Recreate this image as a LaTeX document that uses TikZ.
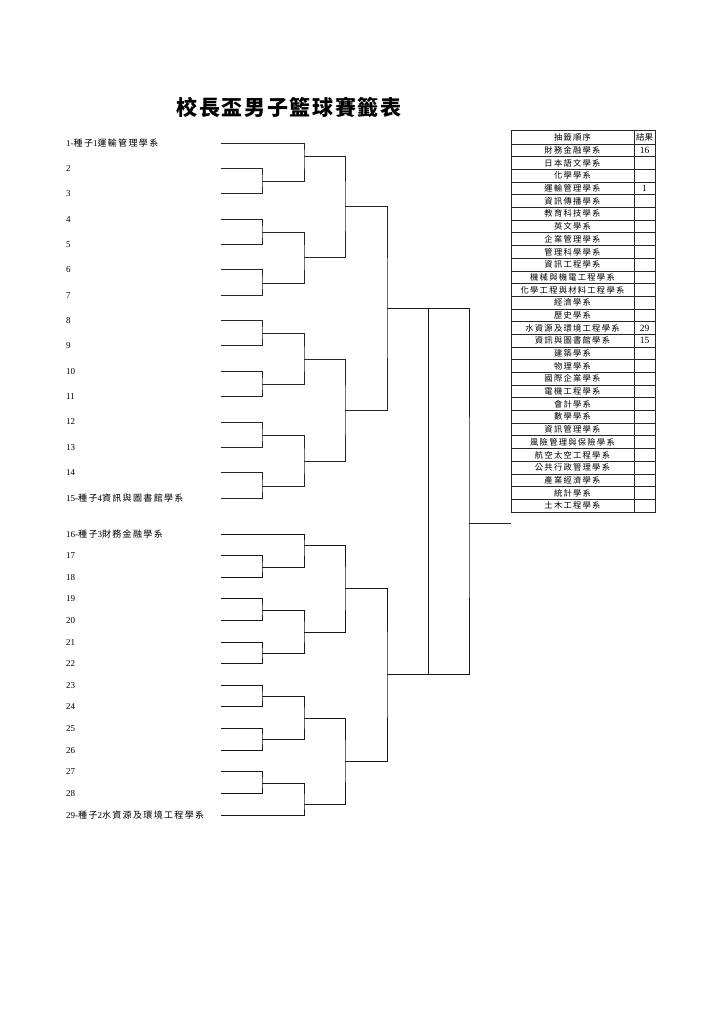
\documentclass[tikz,border=0pt]{standalone}
\usepackage{fontspec}
\setmainfont{Liberation Serif}
\newfontfamily\cjk{Noto Sans CJK TC}
\newfontfamily\cjks[LetterSpace=15]{Noto Sans CJK TC}
\newfontfamily\cjkt[LetterSpace=8]{Noto Sans CJK TC}
\begin{document}
\begin{tikzpicture}[x=1pt,y=-1pt,
  br/.style={line width=0.8pt,black!85},
  brb/.style={line width=1.0pt,black!90},
  lab/.style={anchor=west,inner sep=0pt,font=\fontsize{9}{10}\selectfont},
  tcell/.style={inner sep=0pt,font=\cjks\fontsize{8.3}{9}\selectfont},
  rcell/.style={inner sep=0pt,font=\fontsize{9.5}{10}\selectfont},
  tline/.style={line width=0.8pt,black!85}]
\useasboundingbox (0,0) rectangle (724,1024);
\fill[white] (0,0) rectangle (724,1024);
% title
\node[inner sep=0pt,font=\cjkt\bfseries\fontsize{21}{22}\selectfont] (title) at (289,107) {校長盃男子籃球賽籤表};
% ---- entry coordinates and labels
\foreach \i in {1,...,15}{
  \coordinate (e\i) at (221,{143+(\i-1)*25.36});
}
\foreach \i in {16,...,29}{
  \coordinate (e\i) at (221,{534+(\i-16)*21.615});
}
\node[lab] (l1) at (66,143) {1-{\cjks 種子}1{\cjks 運輸管理學系}};
\foreach \i in {2,...,14}{
  \node[lab] (l\i) at (66,{143+(\i-1)*25.36}) {\i};
}
\node[lab] (l15) at (66,498) {15-{\cjks 種子}4{\cjks 資訊與圖書館學系}};
\node[lab] (l16) at (66,534) {16-{\cjks 種子}3{\cjks 財務金融學系}};
\foreach \i in {17,...,28}{
  \node[lab] (l\i) at (66,{534+(\i-16)*21.615}) {\i};
}
\node[lab] (l29) at (66,815) {29-{\cjks 種子}2{\cjks 水資源及環境工程學系}};
% ---- top half junctions
\coordinate (a23) at (262,181);
\coordinate (a45) at (262,232);
\coordinate (a67) at (262,283);
\coordinate (a89) at (262,333);
\coordinate (a1011) at (262,384);
\coordinate (a1213) at (262,435);
\coordinate (a1415) at (262,486);
\coordinate (b1) at (304,156);
\coordinate (b2) at (304,257);
\coordinate (b3) at (304,359);
\coordinate (b4) at (304,461);
\coordinate (c1) at (345,206);
\coordinate (c2) at (345,410);
\coordinate (s1) at (387,308);
\draw[br] (e2) -| (a23) |- (e3);
\draw[br] (e4) -| (a45) |- (e5);
\draw[br] (e6) -| (a67) |- (e7);
\draw[br] (e8) -| (a89) |- (e9);
\draw[br] (e10) -| (a1011) |- (e11);
\draw[br] (e12) -| (a1213) |- (e13);
\draw[br] (e14) -| (a1415) |- (e15);
\draw[br] (e1) -| (b1) |- (a23);
\draw[br] (a45) -| (b2) |- (a67);
\draw[br] (a89) -| (b3) |- (a1011);
\draw[br] (a1213) -| (b4) |- (a1415);
\draw[br] (b1) -| (c1) |- (b2);
\draw[br] (b3) -| (c2) |- (b4);
\draw[br] (c1) -| (s1) |- (c2);
% ---- bottom half junctions
\coordinate (a1718) at (262,567);
\coordinate (a1920) at (262,610);
\coordinate (a2122) at (262,653);
\coordinate (a2324) at (262,696);
\coordinate (a2526) at (262,739);
\coordinate (a2728) at (262,783);
\coordinate (b5) at (304,545);
\coordinate (b6) at (304,632);
\coordinate (b7) at (304,718);
\coordinate (b8) at (304,804);
\coordinate (c3) at (345,588);
\coordinate (c4) at (345,761);
\coordinate (s2) at (387,674);
\draw[brb] (e17) -| (a1718) |- (e18);
\draw[brb] (e19) -| (a1920) |- (e20);
\draw[brb] (e21) -| (a2122) |- (e22);
\draw[brb] (e23) -| (a2324) |- (e24);
\draw[brb] (e25) -| (a2526) |- (e26);
\draw[brb] (e27) -| (a2728) |- (e28);
\draw[brb] (e16) -| (b5) |- (a1718);
\draw[brb] (a1920) -| (b6) |- (a2122);
\draw[brb] (a2324) -| (b7) |- (a2526);
\draw[brb] (a2728) -| (b8) |- (e29);
\draw[brb] (b5) -| (c3) |- (b6);
\draw[brb] (b7) -| (c4) |- (b8);
\draw[brb] (c3) -| (s2) |- (c4);
% ---- final
\coordinate (fin) at (469,523);
\coordinate (fmid) at (428,491);
\coordinate (champ) at (511,523);
\draw[brb] (s1) -| (fin) |- (s2);
\draw[brb] (fmid |- s1) -- (fmid |- s2);
\draw[br] (fin) -- (champ);
% ---- table
\draw[tline] (511,130) rectangle (655,512);
\draw[tline] (634,130) -- (634,512);
\draw[tline] (511,144) -- (655,144);
\node[tcell] (hd1) at (572.5,137) {抽籤順序};
\node[inner sep=0pt,font=\cjk\fontsize{8.5}{9}\selectfont] (hd2) at (644.5,137) {結果};
\foreach \nm [count=\k] in {財務金融學系,日本語文學系,化學學系,運輸管理學系,資訊傳播學系,教育科技學系,英文學系,企業管理學系,管理科學學系,資訊工程學系,機械與機電工程學系,化學工程與材料工程學系,經濟學系,歷史學系,水資源及環境工程學系,資訊與圖書館學系,建築學系,物理學系,國際企業學系,電機工程學系,會計學系,數學學系,資訊管理學系,風險管理與保險學系,航空太空工程學系,公共行政管理學系,產業經濟學系,統計學系,土木工程學系}{
  \node[tcell] (d\k) at (572.5,{144+(\k-0.5)*12.69}) {\nm};
  \ifnum\k<29
    \draw[tline] (511,{144+\k*12.69}) -- (655,{144+\k*12.69});
  \fi
}
\node[rcell] (r1) at (644.5,{144+0.5*12.69}) {16};
\node[rcell] (r4) at (644.5,{144+3.5*12.69}) {1};
\node[rcell] (r15) at (644.5,{144+14.5*12.69}) {29};
\node[rcell] (r16) at (644.5,{144+15.5*12.69}) {15};
\end{tikzpicture}
\end{document}
